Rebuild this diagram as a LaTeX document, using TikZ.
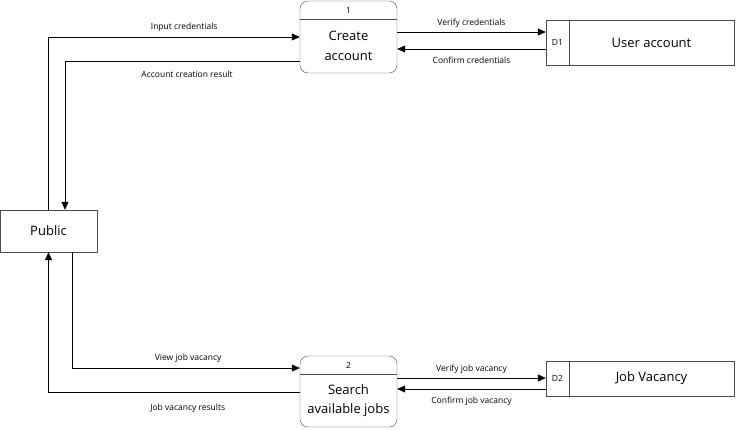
\documentclass[tikz,border=0pt]{standalone}
\usepackage{fontspec}
\setmainfont{Open Sans}
\usetikzlibrary{arrows.meta}

\begin{document}
\begin{tikzpicture}[
  x=1pt, y=-1pt,
  font=\fontsize{13}{16}\selectfont,
  proc/.style={
    rectangle, rounded corners=8pt, draw=black!70, fill=white,
    minimum width=97pt, inner sep=0pt
  },
  proctxt/.style={align=center, font=\fontsize{13}{19.5}\selectfont},
  store/.style={
    rectangle, draw=black!70, fill=white,
    minimum width=188pt, inner sep=0pt
  },
  entity/.style={
    rectangle, draw=black!70, fill=white,
    minimum width=97pt, minimum height=42pt, inner sep=0pt
  },
  small/.style={font=\fontsize{8.5}{10}\selectfont},
  flow/.style={-{Triangle[length=8pt,width=7pt]}, black, line width=0.6pt},
]
\useasboundingbox (0,0) rectangle (736,429);

% External entity
\node[entity] (pub) at (48.5,231) {Public};

% Process 1
\node[proc, minimum height=72pt] (p1) at (348.5,37) {};
\node[small] (p1num) at (348.5,10) {1};
\node[proctxt] (p1txt) at (348.5,46) {Create\\account};
\draw[black!70, line width=0.6pt] ([yshift=-18pt]p1.north west) -- ([yshift=-18pt]p1.north east);

% Process 2
\node[proc, minimum height=71pt] (p2) at (348.5,391.5) {};
\node[small] (p2num) at (348.5,365) {2};
\node[proctxt] (p2txt) at (348.5,400.5) {Search\\available jobs};
\draw[black!70, line width=0.6pt] ([yshift=-18pt]p2.north west) -- ([yshift=-18pt]p2.north east);

% Data stores
\node[store, minimum height=45pt] (d1) at (640,42.5) {};
\draw[black!70, line width=0.6pt] ([xshift=23pt]d1.north west) -- ([xshift=23pt]d1.south west);
\node[small] (d1id) at (557.5,42.5) {D1};
\node (d1txt) at (651.5,42.5) {User account};

\node[store, minimum height=35pt] (d2) at (640,378.5) {};
\draw[black!70, line width=0.6pt] ([xshift=23pt]d2.north west) -- ([xshift=23pt]d2.south west);
\node[small] (d2id) at (557.5,378.5) {D2};
\node (d2txt) at (651.5,378.5) {Job Vacancy};

% Flows between Public and processes
\draw[flow] (pub.north) |- node[small, pos=.77, above=2pt] {Input credentials} (p1.west);
\draw[flow] ([yshift=-24pt]p1.west) -| node[small, pos=.24, below=6pt] {Account creation result} ([xshift=16.5pt]pub.north);
\draw[flow] ([xshift=23.5pt]pub.south) |- node[small, pos=.755, above=2pt] {View job vacancy} ([yshift=23.5pt]p2.west);
\draw[flow] ([yshift=-0.5pt]p2.west) -| node[small, pos=.223, below=8pt] {Job vacancy results} (pub.south);

% Flows between processes and data stores
\draw[flow] ([yshift=5pt]p1.east) -- node[small, above=1pt] {Verify credentials} ([yshift=5pt]p1.east -| d1.west);
\draw[flow] ([yshift=-6.5pt]d1.west) -- node[small, below=4pt] {Confirm credentials} ([yshift=-6.5pt]d1.west -| p1.east);
\draw[flow] ([yshift=13.5pt]p2.east) -- node[small, above=1pt] {Verify job vacancy} ([yshift=13.5pt]p2.east -| d2.west);
\draw[flow] ([yshift=-10.5pt]d2.west) -- node[small, below=4pt] {Confirm job vacancy} ([yshift=-10.5pt]d2.west -| p2.east);
\end{tikzpicture}
\end{document}
